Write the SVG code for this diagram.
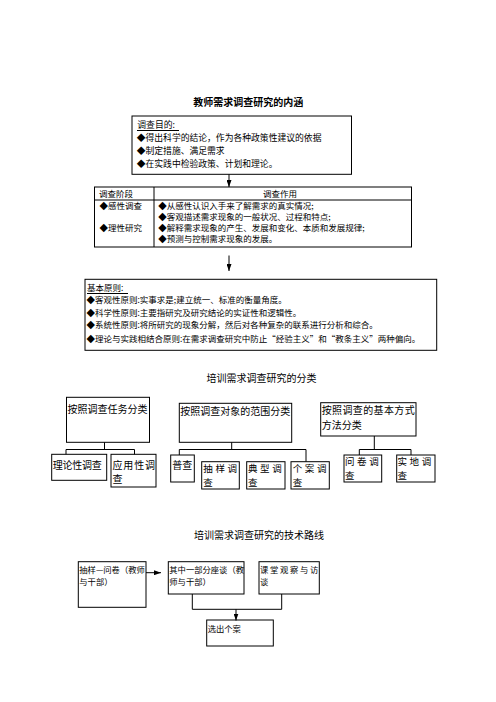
<svg xmlns="http://www.w3.org/2000/svg" width="496" height="702" viewBox="0 0 496 702">
<defs>
<style>
text{font-family:"Noto Sans CJK SC","Noto Sans CJK JP",sans-serif;fill:#000}
.box{fill:#fff;stroke:#000;stroke-width:1}
.ln{fill:none;stroke:#000;stroke-width:1}
.title{font-size:10px;font-weight:bold}
.sec{font-size:10px}
.t9{font-size:8.8px}
.t85{font-size:8.5px}
.c10{font-size:10px}
.sp{font-size:9.5px;letter-spacing:2.6px}
.r8{font-size:8.3px}
</style>
<marker id="ah" viewBox="0 0 7 5" refX="7" refY="2.5" markerWidth="7" markerHeight="5" markerUnits="userSpaceOnUse" orient="auto">
<path d="M0,0 L7,2.5 L0,5 z" fill="#000"/>
</marker>
</defs>
<rect width="496" height="702" fill="#fff"/>

<text class="title" x="248.3" y="105.5" text-anchor="middle">教师需求调查研究的内涵</text>

<g id="node-purpose">
<rect class="box" x="132" y="116" width="219.5" height="58.3"/>
<text class="t9" x="137.3" y="128.3">调查目的:</text>
<line class="ln" x1="137" y1="130.5" x2="179" y2="130.5"/>
<text class="t9" x="136.7" y="141.3">◆得出科学的结论，作为各种政策性建议的依据</text>
<text class="t9" x="136.7" y="154.3">◆制定措施、满足需求</text>
<text class="t9" x="136.7" y="167.3">◆在实践中检验政策、计划和理论。</text>
</g>

<g id="node-stage-table">
<rect class="box" x="94.5" y="187" width="317" height="60"/>
<line class="ln" x1="94.5" y1="200" x2="411.5" y2="200"/>
<line class="ln" x1="154" y1="187" x2="154" y2="247"/>
<text class="t85" x="99" y="196.7">调查阶段</text>
<text class="t85" x="280" y="196.7" text-anchor="middle">调查作用</text>
<text class="t85" x="99.5" y="208.7">◆感性调查</text>
<text class="t85" x="99.5" y="230.7">◆理性研究</text>
<text class="t85" x="158.3" y="208.7">◆从感性认识入手来了解需求的真实情况;</text>
<text class="t85" x="158.3" y="219.7">◆客观描述需求现象的一般状况、过程和特点;</text>
<text class="t85" x="158.3" y="230.7">◆解释需求现象的产生、发展和变化、本质和发展规律;</text>
<text class="t85" x="158.3" y="241.7">◆预测与控制需求现象的发展。</text>
</g>

<g id="node-principles">
<rect class="box" x="85" y="279.3" width="351.7" height="71"/>
<text class="t85" x="87" y="290.7">基本原则:</text>
<line class="ln" x1="87" y1="293.5" x2="128" y2="293.5"/>
<text class="t85" x="86.5" y="303.2">◆客观性原则:实事求是;建立统一、标准的衡量角度。</text>
<text class="t85" x="86.5" y="315.7">◆科学性原则:主要指研究及研究结论的实证性和逻辑性。</text>
<text class="t85" x="86.5" y="328.2">◆系统性原则:将所研究的现象分解，然后对各种复杂的联系进行分析和综合。</text>
<text class="t85" x="86.5" y="341.7">◆理论与实践相结合原则:在需求调查研究中防止“经验主义”和“教条主义”两种偏向。</text>
</g>

<text class="sec" x="261.5" y="381.8" text-anchor="middle">培训需求调查研究的分类</text>

<g id="node-by-task">
<rect class="box" x="66.5" y="397.3" width="83" height="45"/>
<text class="c10" x="67.5" y="412.8" textLength="80" lengthAdjust="spacing">按照调查任务分类</text>
</g>
<g id="node-by-scope">
<rect class="box" x="179.3" y="403.3" width="112.4" height="39"/>
<text class="c10" x="180.3" y="414.5">按照调查对象的范围分类</text>
</g>
<g id="node-by-method">
<rect class="box" x="320.7" y="402.7" width="95.3" height="33.3"/>
<text class="c10"><tspan x="321.7" y="414.3" textLength="93" lengthAdjust="spacing">按照调查的基本方式</tspan><tspan x="321.7" y="428.8">方法分类</tspan></text>
</g>

<g id="node-theory">
<rect class="box" x="51.7" y="454.3" width="55" height="26"/>
<text class="c10" x="52.7" y="468.8" textLength="49" lengthAdjust="spacing">理论性调查</text>
</g>
<g id="node-applied">
<rect class="box" x="111" y="454.3" width="45" height="32.7"/>
<text class="c10"><tspan x="112.5" y="468.5" textLength="42.5" lengthAdjust="spacing">应用性调</tspan><tspan x="112.5" y="483">查</tspan></text>
</g>
<g id="node-census">
<rect class="box" x="170.7" y="455" width="23.6" height="27"/>
<text class="c10" x="172.3" y="468.8">普查</text>
</g>
<g id="node-sampling">
<rect class="box" x="201.7" y="461.7" width="37.6" height="27.3"/>
<text class="sp"><tspan x="203.3" y="472">抽样调</tspan><tspan x="203.3" y="485.8">查</tspan></text>
</g>
<g id="node-typical">
<rect class="box" x="246.7" y="461.7" width="38.3" height="27.3"/>
<text class="sp"><tspan x="248" y="472">典型调</tspan><tspan x="248" y="485.8">查</tspan></text>
</g>
<g id="node-case">
<rect class="box" x="291" y="461.7" width="38.3" height="27.3"/>
<text class="sp"><tspan x="292.7" y="472">个案调</tspan><tspan x="292.7" y="485.8">查</tspan></text>
</g>
<g id="node-questionnaire">
<rect class="box" x="344" y="455" width="37.7" height="27"/>
<text class="sp"><tspan x="345" y="464.8">问卷调</tspan><tspan x="345" y="478.6">查</tspan></text>
</g>
<g id="node-field">
<rect class="box" x="396.7" y="455" width="38.3" height="27"/>
<text class="sp"><tspan x="397.5" y="464.8">实地调</tspan><tspan x="397.5" y="478.6">查</tspan></text>
</g>

<text class="sec" x="259" y="538.8" text-anchor="middle">培训需求调查研究的技术路线</text>

<g id="node-sample-survey">
<rect class="box" x="78.3" y="561.7" width="67.7" height="45.6"/>
<text class="r8"><tspan x="79.3" y="573.2">抽样—问卷（教师</tspan><tspan x="79.3" y="584.5">与干部）</tspan></text>
</g>
<g id="node-discussion">
<rect class="box" x="168.3" y="561.7" width="75.7" height="32.3"/>
<text class="r8"><tspan x="169.3" y="573.2">其中一部分座谈（教</tspan><tspan x="169.3" y="584.5">师与干部）</tspan></text>
</g>
<g id="node-observation">
<rect class="box" x="259" y="561.7" width="60.3" height="32.3"/>
<text class="r8"><tspan x="260" y="573.2" letter-spacing="1.7">课堂观察与访</tspan><tspan x="260" y="584.5">谈</tspan></text>
</g>
<g id="node-cases">
<rect class="box" x="206.7" y="620" width="66.6" height="26"/>
<text class="r8" x="207.7" y="631.5">选出个案</text>
</g>

<g id="connectors">
<line class="ln" x1="229" y1="174.3" x2="229" y2="187" marker-end="url(#ah)"/>
<line class="ln" x1="229" y1="255.5" x2="229" y2="271" marker-end="url(#ah)"/>
<path class="ln" d="M104.5 442.3V449.5M66 449.5H134.5M66 449.5V454.3M134.5 449.5V454.3"/>
<path class="ln" d="M231.7 442.3V449.5M179.3 449.5H306M179.3 449.5V455M306 449.5V461.7"/>
<path class="ln" d="M374.3 436V449.5M359.3 449.5H411M359.3 449.5V455M411 449.5V455"/>
<line class="ln" x1="146" y1="572.7" x2="161" y2="572.7" marker-end="url(#ah)"/>
<path class="ln" d="M192.3 594V609.3M281.7 594V609.3M192.3 609.3H281.7"/>
<line class="ln" x1="236" y1="609.3" x2="236" y2="620.5" marker-end="url(#ah)"/>
</g>
</svg>
